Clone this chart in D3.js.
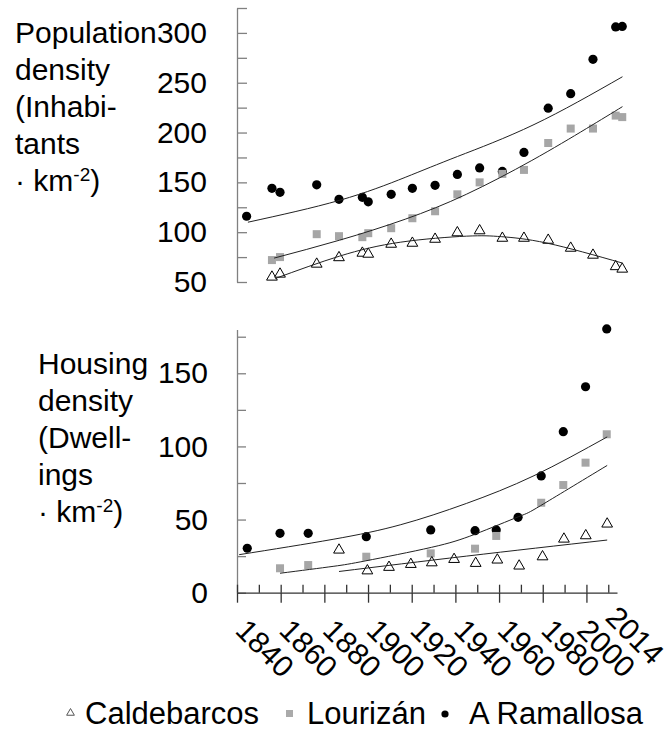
<!DOCTYPE html>
<html>
<head>
<meta charset="utf-8">
<script src="https://cdnjs.cloudflare.com/ajax/libs/d3/7.8.5/d3.min.js"></script>
<style>
body{margin:0;background:#fff}
text{font-family:"Liberation Sans",Arial,sans-serif;fill:#000}
</style>
</head>
<body>
<div id="chart"></div>
<script>
//population density, top panel (inhabitants per km2)
let popYears=[1844.4,1856,1859.7,1876.5,1886.7,1897.4,1900.1,1910.6,1920.3,1930.7,1940.9,1951.1,1961.5,1971.4,1982.5,1992.8,2003,2013.4,2016.4]
let popRamallosa=[116,144,140,147.5,133,135,130.5,138,144,147,158,164.5,161,180,224.5,239,273.5,306,306.5]
let popLourizan=[null,72,75,98,96,95,99,104,114,121,138,150,158.5,162.5,189.5,204,204,217,215.5]
let popCaldebarcos=[null,55,58,68,74.5,79,78,88,89,93,99.5,101.5,94,94,92,84,77,65.5,63]

//trend lines of the top panel, read as [year,value]
let popTrendRamallosa=[[1845,110],[1887,132],[1917,155],[1941,176],[1976,208],[2016.5,256]]
let popTrendLourizan=[[1857,74],[1887,92],[1917,113],[1945,138],[1975,172],[2000,204],[2016.5,226]]
let popTrendCaldebarcos=[[1857.5,53.5],[1887,76],[1915,90],[1945,96],[1961,95.5],[1982,89],[2016.5,69]]

//housing density, bottom panel (dwellings per km2)
let houseYearsRamallosa=[1844.7,1859.7,1872.6,1899.2,1928.7,1949,1958.7,1968.7,1979.3,1989.4,1999.6,2009.3]
let houseRamallosa=[30.4,40.6,40.6,38.3,42.9,42.4,42.9,51.5,79.8,110.1,140.8,180.3]
let houseYearsLourizan=[1859.7,1872.6,1899.2,1928.7,1949,1958.7,1979.3,1989.4,1999.6,2009.3]
let houseLourizan=[16.7,18.9,24.6,26.9,30.1,38.8,61.5,73.6,88.9,108.3]
let houseYearsCaldebarcos=[1886.7,1899.7,1909.6,1919.6,1929.2,1939.4,1949.3,1959.2,1969.2,1979.9,1989.7,1999.7,2009.5]
let houseCaldebarcos=[29.2,15,17.4,19.4,20.5,22.8,20.1,22.4,18.3,24.6,36.7,39,47]

let houseTrendRamallosa=[[1841,26],[1884,36.5],[1915,46.5],[1945,61],[1976,80],[2009.5,106.5]]
let houseTrendLourizan=[[1859.7,13.3],[1884,18],[1899,21.8],[1929,31],[1949,40],[1969,52],[1979,59.5],[2009.5,87]]
let houseTrendCaldebarcos=[[1886.7,14.5],[1945,25],[2009.5,36]]

//ticks and labels
let popTicks=d3.range(50,326,25)
let houseTicks=d3.range(0,176,25)
let yearMajor=[1840,1860,1880,1900,1920,1940,1960,1980,2000]
let yearAll=d3.range(1840,2011,10)
let yearLabels=["1840","1860","1880","1900","1920","1940","1960","1980","2000","2014"]
let yearLabelValues=[1840,1860,1880,1900,1920,1940,1960,1980,2000,2014]
let seriesNames=["Caldebarcos","Lourizán","A Ramallosa"]

let width=668
let height=751
let fontSize=30
let svg=d3.select("#chart").append("svg").attr("width",width).attr("height",height)
svg.append("rect").attr("width",width).attr("height",height).attr("fill","#fff")

let xScale=d3.scaleLinear().domain([1840,2014]).range([237,617])
let yPop=d3.scaleLinear().domain([50,325]).range([282,8])
let yHouse=d3.scaleLinear().domain([0,180]).range([592.7,329.4])

let line=(yScale)=>d3.line().x(d=>xScale(d[0])).y(d=>yScale(d[1])).curve(d3.curveNatural)
let triangle=d3.symbol().type(d3.symbolTriangle).size(50)

//we draw one panel: points first, the trend lines over them
function drawPanel(yScale,ram,lou,cal,trends){
    let g=svg.append("g")
    g.selectAll(".dot").data(ram).enter().append("circle").attr("class","dot")
        .attr("cx",d=>xScale(d[0])).attr("cy",d=>yScale(d[1])).attr("r",4.6).attr("fill","#000")
    g.selectAll(".square").data(lou).enter().append("rect").attr("class","square")
        .attr("x",d=>xScale(d[0])-4).attr("y",d=>yScale(d[1])-4).attr("width",8).attr("height",8).attr("fill","#a6a6a6")
    g.selectAll(".tri").data(cal).enter().append("path").attr("class","tri").attr("d",triangle)
        .attr("transform",d=>"translate("+xScale(d[0])+","+yScale(d[1])+")")
        .attr("fill","#fff").attr("stroke","#000").attr("stroke-width",1)
    trends.forEach(t=>{
        g.append("path").attr("d",line(yScale)(t)).attr("fill","none").attr("stroke","#222").attr("stroke-width",1)
    })
}

let zip=(years,values)=>years.map((y,i)=>[y,values[i]]).filter(d=>d[1]!=null)

drawPanel(yPop,zip(popYears,popRamallosa),zip(popYears,popLourizan),zip(popYears,popCaldebarcos),
    [popTrendRamallosa,popTrendLourizan,popTrendCaldebarcos])
drawPanel(yHouse,zip(houseYearsRamallosa,houseRamallosa),zip(houseYearsLourizan,houseLourizan),zip(houseYearsCaldebarcos,houseCaldebarcos),
    [houseTrendRamallosa,houseTrendLourizan,houseTrendCaldebarcos])

//we add the y axis, ticks point inside and labels every 50
let yAxisPop=d3.axisLeft(yPop).tickValues(popTicks).tickSizeInner(-10).tickSizeOuter(0).tickPadding(30).tickFormat(d=>d%50==0 ? d : "")
let yAxisHouse=d3.axisLeft(yHouse).tickValues(houseTicks).tickSizeInner(-9).tickSizeOuter(0).tickPadding(29).tickFormat(d=>d%50==0 ? d : "")
let gy1=svg.append("g").attr("transform","translate(237,0)").call(yAxisPop)
let gy2=svg.append("g").attr("transform","translate(237,0)").call(yAxisHouse)
;[gy1,gy2].forEach(g=>{
    g.select(".domain").attr("stroke","#808080").attr("stroke-width",1.3)
    g.selectAll(".tick line").attr("stroke","#808080").attr("stroke-width",1.3)
    g.selectAll(".tick text").attr("font-size",fontSize).attr("font-family","Liberation Sans, Arial, sans-serif").attr("fill","#000")
})

//x axis of the bottom panel, long ticks cross the line
let gxTop=svg.append("g").attr("transform","translate(0,592.7)").call(d3.axisTop(xScale).tickValues(yearAll).tickSize(8).tickFormat(""))
let gxBot=svg.append("g").attr("transform","translate(0,592.7)").call(d3.axisBottom(xScale).tickValues(yearMajor).tickSizeInner(10).tickSizeOuter(0).tickFormat(""))
gxTop.select(".domain").remove()
gxBot.select(".domain").attr("stroke","#333").attr("stroke-width",1.3)
gxTop.selectAll(".tick line").attr("stroke","#333").attr("stroke-width",1.3)
gxBot.selectAll(".tick line").attr("stroke","#333").attr("stroke-width",1.3)

svg.selectAll(".xlabel").data(yearLabelValues).enter().append("text").attr("class","xlabel")
    .attr("transform",(d,i)=>{
        let dx=i==8 ? -8 : (i==9 ? -10 : 0)
        let dy=i==9 ? -13 : 0
        return "translate("+(xScale(d)-3+dx)+","+(632+dy)+") rotate(45)"
    })
    .attr("font-size",fontSize).text((d,i)=>yearLabels[i])

//axis titles
function title(x,y0,lines){
    let t=svg.append("text").attr("font-size",fontSize)
    lines.forEach((l,i)=>{
        let s=t.append("tspan").attr("x",x).attr("y",y0+i*37)
        if(l=="km"){
            s.text("· km")
            t.append("tspan").attr("dy",-10).attr("font-size",19).text("-2")
            t.append("tspan").attr("dy",10).text(")")
        }else s.text(l)
    })
}
title(15,43,["Population","density","(Inhabi-","tants","km"])
title(38,374,["Housing","density","(Dwell-","ings","km"])

//we add a legend
let legend=svg.append("g").attr("id","legend")
let legX=[85,307,469]
legend.append("path").attr("d",d3.symbol().type(d3.symbolTriangle).size(26)).attr("transform","translate(70.5,713)")
    .attr("fill","#fff").attr("stroke","#555").attr("stroke-width",1)
legend.append("rect").attr("x",286).attr("y",710).attr("width",7).attr("height",7).attr("fill","#aaa")
legend.append("circle").attr("cx",445).attr("cy",714).attr("r",3.6).attr("fill","#000")
legend.selectAll("text").data(seriesNames).enter().append("text").attr("x",(d,i)=>legX[i]).attr("y",724)
    .attr("font-size",31).text(d=>d)
</script>
</body>
</html>
